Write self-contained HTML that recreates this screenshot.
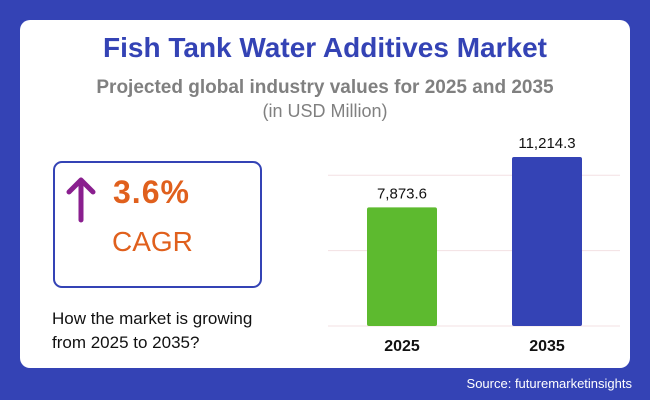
<!DOCTYPE html>
<html><head><meta charset="utf-8"><style>
body{margin:0;width:650px;height:400px;background:#3443b5;font-family:"Liberation Sans",sans-serif;position:relative;overflow:hidden}
.card{position:absolute;left:20px;top:20px;width:610px;height:348px;background:#fff;border-radius:10px}
.t{position:absolute;left:0;width:650px;text-align:center}
</style></head><body>
<div class="card"></div>
<div class="t" style="top:32px;font-size:28px;font-weight:bold;color:#3443b5">Fish Tank Water Additives Market</div>
<div class="t" style="top:77px;font-size:19px;font-weight:bold;color:#808080">Projected global industry values for 2025 and 2035</div>
<div class="t" style="top:101px;font-size:18px;color:#808080">(in USD Million)</div>
<div style="position:absolute;left:53px;top:161px;width:205px;height:123px;border:2px solid #3443b5;border-radius:9px"></div>
<svg style="position:absolute;left:64px;top:174px" width="34" height="50"><path d="M17 46V6M5 18L17 6L29 18" stroke="#8a1f8f" stroke-width="5" fill="none" stroke-linecap="round" stroke-linejoin="round"/></svg>
<div style="position:absolute;left:113px;top:174px;font-size:32px;font-weight:bold;color:#e0601d;letter-spacing:1px">3.6%</div>
<div style="position:absolute;left:112px;top:226px;font-size:28px;color:#e0601d">CAGR</div>
<div style="position:absolute;left:52px;top:307px;font-size:17px;line-height:24px;color:#111">How the market is growing<br>from 2025 to 2035?</div>
<svg id="chart" style="position:absolute;left:0;top:0" width="650" height="400"></svg>
<div style="position:absolute;right:18px;top:376px;font-size:13px;color:#fff">Source: futuremarketinsights</div>
<script>
const categories=["2025","2035"];
const values=[7873.6,11214.3];
const labels=["7,873.6","11,214.3"];
const gridTicks=[0,5000,10000];
const colors=["#5dba2f","#3443b5"];
const svg=document.getElementById('chart');const NS="http://www.w3.org/2000/svg";
const y0=326,k=169/11214.3;const y=v=>y0-v*k;
const x=i=>367+i*145;const bw=70;
function mk(t,a){const e=document.createElementNS(NS,t);for(const n in a)e.setAttribute(n,a[n]);svg.appendChild(e);return e;}
gridTicks.forEach(g=>{const l=mk('line',{x1:328,x2:620,y1:y(g),y2:y(g),stroke:'#f3e0e3','stroke-width':1});

});
categories.forEach((c,i)=>{
const r=mk('rect',{x:x(i),y:y(values[i]),width:bw,height:y0-y(values[i]),fill:colors[i],rx:2});


const t=mk('text',{x:x(i)+bw/2,y:y(values[i])-9,'text-anchor':'middle','font-size':15,fill:'#111','font-family':'Liberation Sans'});t.textContent=labels[i];


const xl=mk('text',{x:x(i)+bw/2,y:351,'text-anchor':'middle','font-size':16,'font-weight':'bold',fill:'#111','font-family':'Liberation Sans'});xl.textContent=c;


});
</script>
</body></html>
